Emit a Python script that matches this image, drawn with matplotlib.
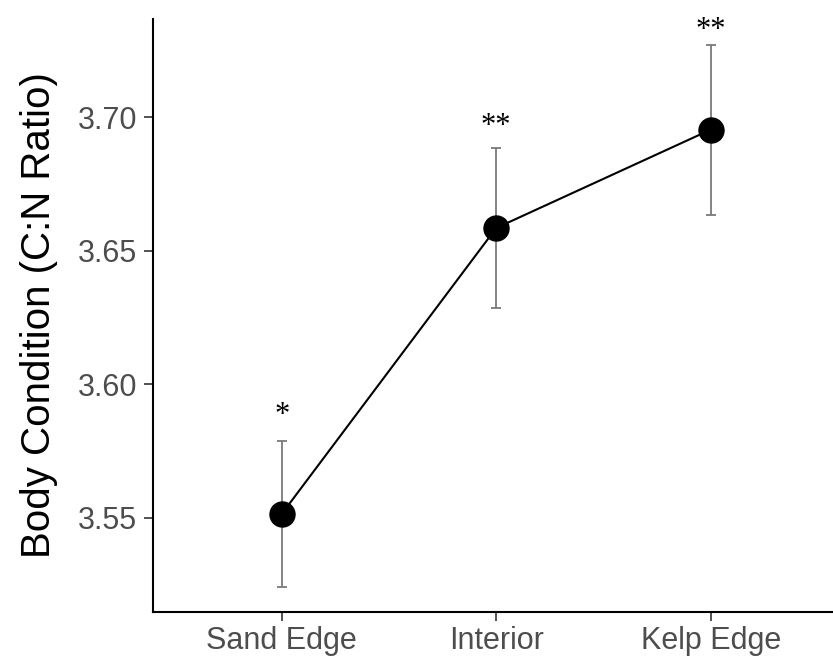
import matplotlib.pyplot as plt

# data
sites = ['Sand Edge', 'Interior', 'Kelp Edge']
cn_mean = [3.5515, 3.6585, 3.6953]
cn_se = [0.0273, 0.0300, 0.0318]
sig_labels = ['*', '**', '**']
sig_y = [3.5885, 3.6965, 3.7325]

fig = plt.figure(figsize=(8.33, 6.6), dpi=100)
ax = fig.add_axes([0.1837, 0.0727, 0.8163, 0.8985])

x = list(range(1, len(sites) + 1))

# error bars first so the points sit on top
ax.errorbar(x, cn_mean, yerr=cn_se, fmt='none', ecolor='#7a7a7a',
            elinewidth=1.3, capsize=3.5, capthick=1.3, zorder=1)
ax.plot(x, cn_mean, color='black', linewidth=1.5, zorder=2)
ax.plot(x, cn_mean, 'o', color='black', markersize=18, zorder=3)

for xi, lab, yi in zip(x, sig_labels, sig_y):
    ax.text(xi, yi, lab, ha='center', va='center', fontsize=22,
            family='Liberation Serif', color='black')

ax.set_xlim(0.4, 3.57)
ax.set_ylim(3.5148, 3.7367)
ax.set_xticks(x)
ax.set_xticklabels(sites)
ax.set_yticks([3.55, 3.60, 3.65, 3.70])
ax.set_yticklabels(['3.55', '3.60', '3.65', '3.70'])

ax.set_ylabel('Body Condition (C:N Ratio)', fontsize=29, family='Liberation Sans',
              color='black', labelpad=14)

for lab in ax.get_xticklabels() + ax.get_yticklabels():
    lab.set_family('Liberation Sans')
    lab.set_fontsize(22)
    lab.set_color('#4d4d4d')

ax.tick_params(axis='both', length=6.5, width=1.2, color='#333333')
ax.tick_params(axis='x', pad=3.5)
ax.tick_params(axis='y', pad=5)

ax.spines['top'].set_visible(False)
ax.spines['right'].set_visible(False)
ax.spines['left'].set_linewidth(1.5)
ax.spines['bottom'].set_linewidth(1.5)

fig.savefig('out.png', dpi=100)
